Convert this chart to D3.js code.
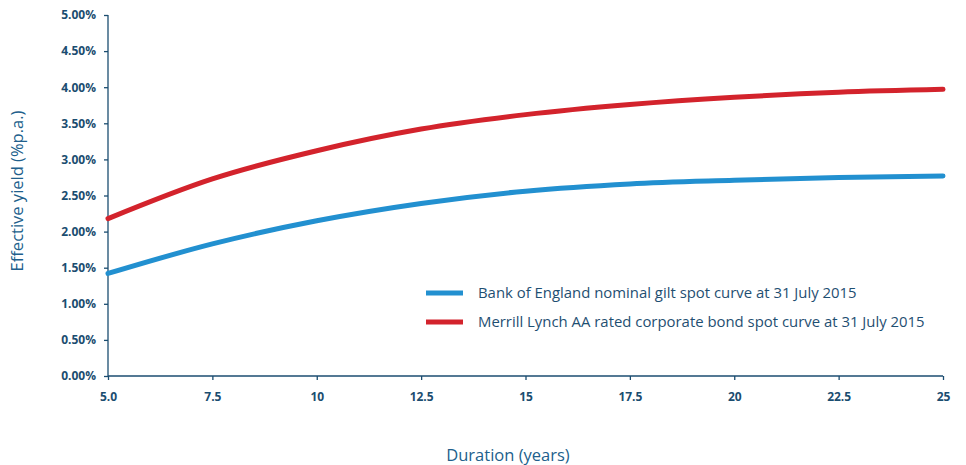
<!DOCTYPE html>
<html>
<head>
<meta charset="utf-8">
<script src="https://cdn.jsdelivr.net/npm/d3@7"></script>
<style>
  body { margin: 0; background: #fff; }
  svg { display: block; font-family: "Open Sans", "Noto Sans", sans-serif; }
  .axis path, .axis line { stroke: #1b4d70; stroke-width: 1.3px; }
  .axis text { fill: #1b4d70; font-family: "Open Sans", sans-serif; font-weight: 700; font-size: 12px; }
</style>
</head>
<body>
<div id="chart"></div>
<script>
// DATA
const durations = [5, 7.5, 10, 12.5, 15, 17.5, 20, 22.5, 25];
const giltYields = [1.42, 1.83, 2.15, 2.39, 2.56, 2.66, 2.71, 2.75, 2.77];
const corpYields = [2.18, 2.73, 3.12, 3.42, 3.62, 3.76, 3.86, 3.93, 3.97];
const seriesNames = [
  "Bank of England nominal gilt spot curve at 31 July 2015",
  "Merrill Lynch AA rated corporate bond spot curve at 31 July 2015"
];
const seriesColors = ["#2290d0", "#d3232c"];
const xTicks = [5, 7.5, 10, 12.5, 15, 17.5, 20, 22.5, 25];
const yTicks = [0, 0.5, 1, 1.5, 2, 2.5, 3, 3.5, 4, 4.5, 5];

const width = 966, height = 465;
const margin = { top: 15, right: 23, bottom: 89, left: 108 };
const innerWidth = width - margin.left - margin.right;
const innerHeight = height - margin.top - margin.bottom;

const svg = d3.select('#chart').append('svg')
  .attr('width', width)
  .attr('height', height);

const g = svg.append('g')
  .attr('transform', `translate(${margin.left}, ${margin.top})`);

const xScale = d3.scaleLinear().domain([5, 25]).range([0, innerWidth]);
const yScale = d3.scaleLinear().domain([0, 5]).range([innerHeight, 0]);

// axes
const yAxis = d3.axisLeft(yScale)
  .tickValues(yTicks)
  .tickSize(4)
  .tickPadding(8)
  .tickFormat(d => d.toFixed(2) + '%');
g.append('g').attr('class', 'axis y-axis').call(yAxis)
  .call(a => a.select('.domain').attr('d', `M0,0V${innerHeight}`));

const xAxis = d3.axisBottom(xScale)
  .tickValues(xTicks)
  .tickSize(4)
  .tickPadding(12)
  .tickFormat(d => d === 5 ? '5.0' : String(d));
g.append('g').attr('class', 'axis x-axis')
  .attr('transform', `translate(0, ${innerHeight})`)
  .call(xAxis)
  .call(a => a.select('.domain').attr('d', `M0,0H${innerWidth}`));

// axis titles
svg.append('text')
  .attr('transform', `translate(23, 191) rotate(-90)`)
  .attr('text-anchor', 'middle')
  .attr('fill', '#215f8c')
  .style('font-size', '16.5px')
  .text('Effective yield (%p.a.)');

svg.append('text')
  .attr('x', 508)
  .attr('y', 461)
  .attr('text-anchor', 'middle')
  .attr('fill', '#215f8c')
  .style('font-size', '16.5px')
  .text('Duration (years)');

// lines
const lineGenerator = d3.line()
  .x((d, i) => xScale(durations[i]))
  .y(d => yScale(d))
  .curve(d3.curveMonotoneX);

[giltYields, corpYields].forEach((vals, i) => {
  g.append('path')
    .attr('fill', 'none')
    .attr('stroke', seriesColors[i])
    .attr('stroke-width', 5)
    .attr('stroke-linecap', 'round')
    .attr('d', lineGenerator(vals));
});

// legend
const legend = svg.append('g').attr('transform', 'translate(426, 293)');
seriesNames.forEach((name, i) => {
  const row = legend.append('g').attr('transform', `translate(0, ${i * 29})`);
  row.append('line')
    .attr('x1', 0).attr('x2', 37)
    .attr('stroke', seriesColors[i])
    .attr('stroke-width', 5);
  row.append('text')
    .attr('x', 52)
    .attr('dy', '0.35em')
    .attr('fill', '#1f4f72')
    .style('font-size', '14.9px')
    .text(name);
});
</script>
</body>
</html>
